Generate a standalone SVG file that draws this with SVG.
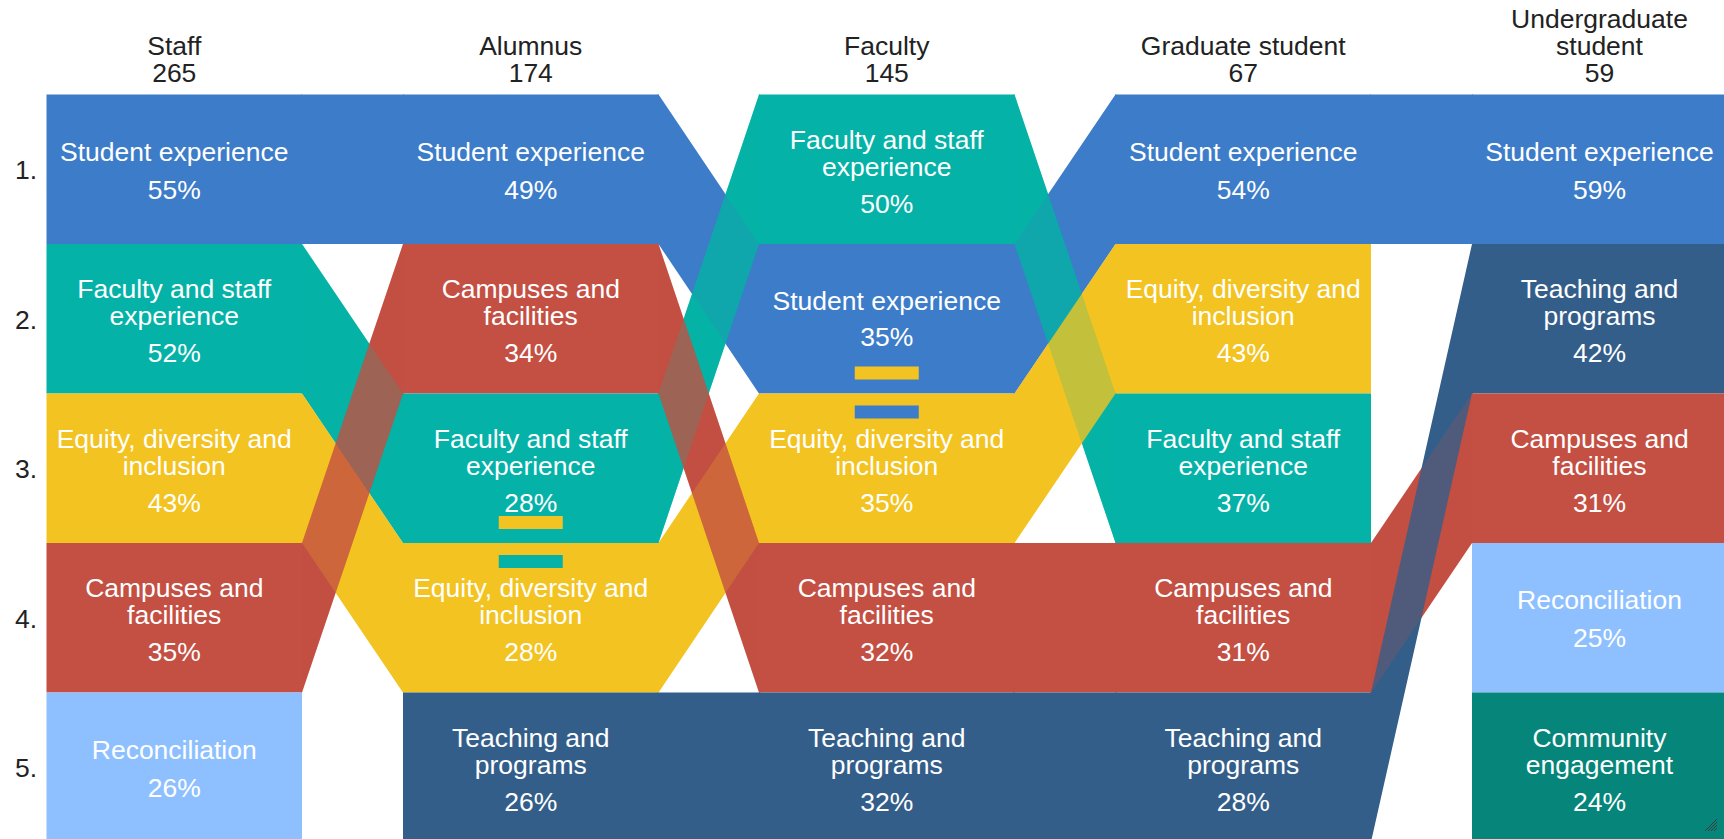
<svg xmlns="http://www.w3.org/2000/svg" xmlns:xlink="http://www.w3.org/1999/xlink" width="1724" height="839" viewBox="0 0 1724 839">
<style>
text{font-family:"Liberation Sans",Arial,sans-serif;font-size:26.5px}
.lbl{fill:#ffffff;text-anchor:middle}
.hdr{fill:#222222;text-anchor:middle}
.num{fill:#222222;text-anchor:start}
.se{fill:#3d7cc9}
.fs{fill:#05b2a7}
.edi{fill:#f3c321}
.cf{fill:#c44f43}
.tp{fill:#345e8a}
.rec{fill:#8ebfff}
.ce{fill:#06857a}
.ov{opacity:0.2}
</style>
<rect x="0" y="0" width="1724" height="839" fill="#ffffff"/>

<g id="headers">
<text class="hdr"><tspan x="174.25" y="54.5">Staff</tspan><tspan x="174.25" y="81.5">265</tspan></text>
<text class="hdr"><tspan x="530.75" y="54.5">Alumnus</tspan><tspan x="530.75" y="81.5">174</tspan></text>
<text class="hdr"><tspan x="886.75" y="54.5">Faculty</tspan><tspan x="886.75" y="81.5">145</tspan></text>
<text class="hdr"><tspan x="1243.25" y="54.5">Graduate student</tspan><tspan x="1243.25" y="81.5">67</tspan></text>
<text class="hdr"><tspan x="1599.5" y="27.5">Undergraduate</tspan><tspan x="1599.5" y="54.5">student</tspan><tspan x="1599.5" y="81.5">59</tspan></text>
</g>

<g id="row-numbers">
<text class="num" x="15" y="179">1.</text>
<text class="num" x="15" y="328.5">2.</text>
<text class="num" x="15" y="478">3.</text>
<text class="num" x="15" y="627.5">4.</text>
<text class="num" x="15" y="777">5.</text>
</g>

<g id="connectors">
<rect class="se" x="301" y="94.5" width="103" height="149.5"/>
<polygon id="b1" class="se" points="657.5,94.5 658.5,94.5 759,244 760,244 760,393.5 759,393.5 658.5,244 657.5,244"/>
<polygon id="b2" class="se" points="1013.5,244 1014.5,244 1115.5,94.5 1116.5,94.5 1116.5,244 1115.5,244 1014.5,393.5 1013.5,393.5"/>
<rect class="se" x="1370" y="94.5" width="103" height="149.5"/>

<polygon id="t0" class="fs" points="301,244 302,244 403,393.5 404,393.5 404,543 403,543 302,393.5 301,393.5"/>
<polygon id="t1" class="fs" points="657.5,393.5 658.5,393.5 759,94.5 760,94.5 760,244 759,244 658.5,543 657.5,543"/>
<polygon id="t2" class="fs" points="1013.5,94.5 1014.5,94.5 1115.5,393.5 1116.5,393.5 1116.5,543 1115.5,543 1014.5,244 1013.5,244"/>

<polygon id="y0" class="edi" points="301,393.5 302,393.5 403,543 404,543 404,692.5 403,692.5 302,543 301,543"/>
<polygon id="y1" class="edi" points="657.5,543 658.5,543 759,393.5 760,393.5 760,543 759,543 658.5,692.5 657.5,692.5"/>
<polygon id="y2" class="edi" points="1013.5,393.5 1014.5,393.5 1115.5,244 1116.5,244 1116.5,393.5 1115.5,393.5 1014.5,543 1013.5,543"/>

<polygon id="r0" class="cf" points="301,543 302,543 403,244 404,244 404,393.5 403,393.5 302,692.5 301,692.5"/>
<polygon id="r1" class="cf" points="657.5,244 658.5,244 759,543 760,543 760,692.5 759,692.5 658.5,393.5 657.5,393.5"/>
<rect class="cf" x="1013.5" y="543" width="103" height="149.5"/>
<polygon id="r3" class="cf" points="1370,543 1371,543 1472,393.5 1473,393.5 1473,543 1472,543 1371,692.5 1370,692.5"/>

<rect class="tp" x="657.5" y="692.5" width="103" height="149.5"/>
<rect class="tp" x="1013.5" y="692.5" width="103" height="149.5"/>
<polygon id="d3" class="tp" points="1370,692.5 1371,692.5 1472,244 1473,244 1473,393.5 1472,393.5 1371,842 1370,842"/>

<use xlink:href="#r3" href="#r3" class="cf ov"/>
<use xlink:href="#r0" href="#r0" class="cf ov"/>
<use xlink:href="#r1" href="#r1" class="cf ov"/>
<use xlink:href="#y0" href="#y0" class="edi ov"/>
<use xlink:href="#y1" href="#y1" class="edi ov"/>
<use xlink:href="#y2" href="#y2" class="edi ov"/>
<use xlink:href="#t0" href="#t0" class="fs ov"/>
<use xlink:href="#t1" href="#t1" class="fs ov"/>
<use xlink:href="#t2" href="#t2" class="fs ov"/>
<use xlink:href="#b1" href="#b1" class="se ov"/>
<use xlink:href="#b2" href="#b2" class="se ov"/>
</g>

<g id="staff-1"><rect class="se" x="46.5" y="94.5" width="255.5" height="149.5"/>
<text class="lbl"><tspan x="174.25" y="160.5">Student experience</tspan><tspan x="174.25" y="198.5">55%</tspan></text></g>
<g id="staff-2"><rect class="fs" x="46.5" y="244" width="255.5" height="149.5"/>
<text class="lbl"><tspan x="174.25" y="298">Faculty and staff</tspan><tspan x="174.25" y="325">experience</tspan><tspan x="174.25" y="362">52%</tspan></text></g>
<g id="staff-3"><rect class="edi" x="46.5" y="393.5" width="255.5" height="149.5"/>
<text class="lbl"><tspan x="174.25" y="447.5">Equity, diversity and</tspan><tspan x="174.25" y="474.5">inclusion</tspan><tspan x="174.25" y="511.5">43%</tspan></text></g>
<g id="staff-4"><rect class="cf" x="46.5" y="543" width="255.5" height="149.5"/>
<text class="lbl"><tspan x="174.25" y="597">Campuses and</tspan><tspan x="174.25" y="624">facilities</tspan><tspan x="174.25" y="661">35%</tspan></text></g>
<g id="staff-5"><rect class="rec" x="46.5" y="692.5" width="255.5" height="149.5"/>
<text class="lbl"><tspan x="174.25" y="758.5">Reconciliation</tspan><tspan x="174.25" y="796.5">26%</tspan></text></g>

<g id="alumnus-1"><rect class="se" x="403" y="94.5" width="255.5" height="149.5"/>
<text class="lbl"><tspan x="530.75" y="160.5">Student experience</tspan><tspan x="530.75" y="198.5">49%</tspan></text></g>
<g id="alumnus-2"><rect class="cf" x="403" y="244" width="255.5" height="149.5"/>
<text class="lbl"><tspan x="530.75" y="298">Campuses and</tspan><tspan x="530.75" y="325">facilities</tspan><tspan x="530.75" y="362">34%</tspan></text></g>
<g id="alumnus-3"><rect class="fs" x="403" y="393.5" width="255.5" height="149.5"/>
<text class="lbl"><tspan x="530.75" y="447.5">Faculty and staff</tspan><tspan x="530.75" y="474.5">experience</tspan><tspan x="530.75" y="511.5">28%</tspan></text>
<rect class="edi" x="498.75" y="516" width="64" height="13"/></g>
<g id="alumnus-4"><rect class="edi" x="403" y="543" width="255.5" height="149.5"/>
<rect class="fs" x="498.75" y="555" width="64" height="13"/>
<text class="lbl"><tspan x="530.75" y="597">Equity, diversity and</tspan><tspan x="530.75" y="624">inclusion</tspan><tspan x="530.75" y="661">28%</tspan></text></g>
<g id="alumnus-5"><rect class="tp" x="403" y="692.5" width="255.5" height="149.5"/>
<text class="lbl"><tspan x="530.75" y="746.5">Teaching and</tspan><tspan x="530.75" y="773.5">programs</tspan><tspan x="530.75" y="810.5">26%</tspan></text></g>

<g id="faculty-1"><rect class="fs" x="759" y="94.5" width="255.5" height="149.5"/>
<text class="lbl"><tspan x="886.75" y="148.5">Faculty and staff</tspan><tspan x="886.75" y="175.5">experience</tspan><tspan x="886.75" y="212.5">50%</tspan></text></g>
<g id="faculty-2"><rect class="se" x="759" y="244" width="255.5" height="149.5"/>
<text class="lbl"><tspan x="886.75" y="310">Student experience</tspan><tspan x="886.75" y="346">35%</tspan></text>
<rect class="edi" x="854.75" y="366.5" width="64" height="13"/></g>
<g id="faculty-3"><rect class="edi" x="759" y="393.5" width="255.5" height="149.5"/>
<rect class="se" x="854.75" y="405.5" width="64" height="13"/>
<text class="lbl"><tspan x="886.75" y="447.5">Equity, diversity and</tspan><tspan x="886.75" y="474.5">inclusion</tspan><tspan x="886.75" y="511.5">35%</tspan></text></g>
<g id="faculty-4"><rect class="cf" x="759" y="543" width="255.5" height="149.5"/>
<text class="lbl"><tspan x="886.75" y="597">Campuses and</tspan><tspan x="886.75" y="624">facilities</tspan><tspan x="886.75" y="661">32%</tspan></text></g>
<g id="faculty-5"><rect class="tp" x="759" y="692.5" width="255.5" height="149.5"/>
<text class="lbl"><tspan x="886.75" y="746.5">Teaching and</tspan><tspan x="886.75" y="773.5">programs</tspan><tspan x="886.75" y="810.5">32%</tspan></text></g>

<g id="graduate-1"><rect class="se" x="1115.5" y="94.5" width="255.5" height="149.5"/>
<text class="lbl"><tspan x="1243.25" y="160.5">Student experience</tspan><tspan x="1243.25" y="198.5">54%</tspan></text></g>
<g id="graduate-2"><rect class="edi" x="1115.5" y="244" width="255.5" height="149.5"/>
<text class="lbl"><tspan x="1243.25" y="298">Equity, diversity and</tspan><tspan x="1243.25" y="325">inclusion</tspan><tspan x="1243.25" y="362">43%</tspan></text></g>
<g id="graduate-3"><rect class="fs" x="1115.5" y="393.5" width="255.5" height="149.5"/>
<text class="lbl"><tspan x="1243.25" y="447.5">Faculty and staff</tspan><tspan x="1243.25" y="474.5">experience</tspan><tspan x="1243.25" y="511.5">37%</tspan></text></g>
<g id="graduate-4"><rect class="cf" x="1115.5" y="543" width="255.5" height="149.5"/>
<text class="lbl"><tspan x="1243.25" y="597">Campuses and</tspan><tspan x="1243.25" y="624">facilities</tspan><tspan x="1243.25" y="661">31%</tspan></text></g>
<g id="graduate-5"><rect class="tp" x="1115.5" y="692.5" width="255.5" height="149.5"/>
<text class="lbl"><tspan x="1243.25" y="746.5">Teaching and</tspan><tspan x="1243.25" y="773.5">programs</tspan><tspan x="1243.25" y="810.5">28%</tspan></text></g>

<g id="undergraduate-1"><rect class="se" x="1472" y="94.5" width="255.5" height="149.5"/>
<text class="lbl"><tspan x="1599.5" y="160.5">Student experience</tspan><tspan x="1599.5" y="198.5">59%</tspan></text></g>
<g id="undergraduate-2"><rect class="tp" x="1472" y="244" width="255.5" height="149.5"/>
<text class="lbl"><tspan x="1599.5" y="298">Teaching and</tspan><tspan x="1599.5" y="325">programs</tspan><tspan x="1599.5" y="362">42%</tspan></text></g>
<g id="undergraduate-3"><rect class="cf" x="1472" y="393.5" width="255.5" height="149.5"/>
<text class="lbl"><tspan x="1599.5" y="447.5">Campuses and</tspan><tspan x="1599.5" y="474.5">facilities</tspan><tspan x="1599.5" y="511.5">31%</tspan></text></g>
<g id="undergraduate-4"><rect class="rec" x="1472" y="543" width="255.5" height="149.5"/>
<text class="lbl"><tspan x="1599.5" y="609">Reconciliation</tspan><tspan x="1599.5" y="647">25%</tspan></text></g>
<g id="undergraduate-5"><rect class="ce" x="1472" y="692.5" width="255.5" height="149.5"/>
<text class="lbl"><tspan x="1599.5" y="746.5">Community</tspan><tspan x="1599.5" y="773.5">engagement</tspan><tspan x="1599.5" y="810.5">24%</tspan></text></g>

<g id="resize-grip" stroke="#3a3a3a" stroke-width="1">
<line x1="1717" y1="819" x2="1705" y2="831"/>
<line x1="1717" y1="822" x2="1708" y2="831"/>
<line x1="1717" y1="825" x2="1711" y2="831"/>
<line x1="1717" y1="828" x2="1714" y2="831"/>
</g>
</svg>
